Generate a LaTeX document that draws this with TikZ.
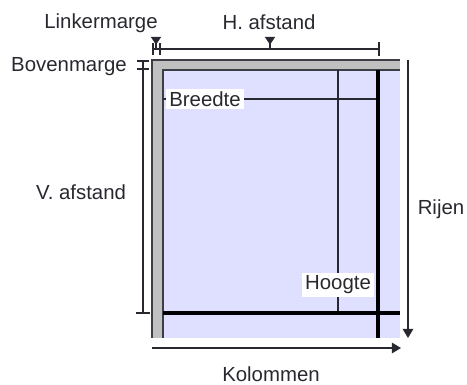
\documentclass[tikz,border=0pt]{standalone}
\usepackage{fontspec}
\setmainfont{Liberation Sans}
\usetikzlibrary{arrows.meta}

\definecolor{paper}{RGB}{223,223,255}
\definecolor{band}{RGB}{192,192,192}
\definecolor{ink}{RGB}{40,40,48}

\tikzset{
  lbl/.style={font=\fontsize{14.5}{16}\selectfont, text=ink, inner sep=1pt},
  boxlbl/.style={lbl, fill=white, inner sep=2pt},
  dimline/.style={draw=ink, line width=0.9pt},
  edgeline/.style={draw=ink!90, line width=1.1pt},
  heavyline/.style={draw=black, line width=2.2pt},
  marker/.style={dimline, {Triangle[length=5.5pt,width=7pt,reversed]}-},
  flow/.style={dimline, -{Triangle[length=6.5pt,width=7.5pt]}}
}

\begin{document}
\begin{tikzpicture}[x=0.025cm, y=-0.025cm]
        \useasboundingbox (0,0) rectangle (467,385);

        %Page
        \fill[paper] (152,60) rectangle (400,338);
        \fill[band] (152,60) rectangle (400,70);
        \fill[band] (152,60) rectangle (163,338);
        \draw[edgeline] (152,338) -- (152,60) -- (400,60);
        \draw[edgeline] (163,338) -- (163,70) -- (400,70);

        %Grid coordinates
        \coordinate (hTop) at (338,70);
        \coordinate (hBot) at (338,313);
        \coordinate (bLeft) at (163,99);
        \coordinate (bRight) at (378,99);
        \coordinate (colTop) at (378,70);
        \coordinate (colBot) at (378,338);
        \coordinate (rowLeft) at (163,313);
        \coordinate (rowRight) at (400,313);

        %Cell lines
        \draw[dimline] (hTop) -- (hBot);
        \draw[dimline] (bLeft) -- (bRight);
        \draw[heavyline] (colTop) -- (colBot);
        \draw[heavyline] (rowLeft) -- (rowRight);

        %Dimension coordinates
        \coordinate (lmA) at (153,49);
        \coordinate (lmB) at (160,49);
        \coordinate (haEnd) at (379,49);
        \coordinate (bmA) at (143,61);
        \coordinate (bmB) at (143,69);
        \coordinate (vaEnd) at (143,313);

        %Top dimensions
        \draw[dimline] (lmA) -- (haEnd);
        \draw[dimline] ([yshift=-4]lmA) -- ([yshift=4]lmA);
        \draw[dimline] ([yshift=-4]lmB) -- ([yshift=4]lmB);
        \draw[dimline] ([yshift=-5]haEnd) -- ([yshift=5]haEnd);
        \coordinate (lmMark) at (156,37);
        \coordinate (lmLine) at (156,49);
        \coordinate (haMark) at (270,37);
        \coordinate (haLine) at (270,49);
        \draw[marker] (lmMark) -- (lmLine);
        \draw[marker] (haMark) -- (haLine);

        %Left dimensions
        \draw[dimline] (bmA) -- (vaEnd);
        \draw[dimline] ([xshift=-4]bmA) -- ([xshift=4]bmA);
        \draw[dimline] ([xshift=-4]bmB) -- ([xshift=4]bmB);
        \draw[dimline] ([xshift=-5]vaEnd) -- ([xshift=5]vaEnd);

        %Flow arrows
        \coordinate (rijenTop) at (408,60);
        \coordinate (rijenBot) at (408,338);
        \coordinate (kolLeft) at (152,348);
        \coordinate (kolRight) at (401,348);
        \draw[flow] (rijenTop) -- (rijenBot);
        \draw[flow] (kolLeft) -- (kolRight);

        %Labels
        \node[lbl] (linker) at (101,23) {Linkermarge};
        \node[lbl] (hafst) at (269,22) {H. afstand};
        \node[lbl] (boven) at (69,67) {Bovenmarge};
        \node[lbl] (vafst) at (81,192) {V. afstand};
        \node[boxlbl] (breedte) at (205,99) {Breedte};
        \node[boxlbl] (hoogte) at (338,285) {Hoogte};
        \node[lbl] (rijen) at (441,209) {Rijen};
        \node[lbl] (kolom) at (271,374) {Kolommen};

\end{tikzpicture}
\end{document}
